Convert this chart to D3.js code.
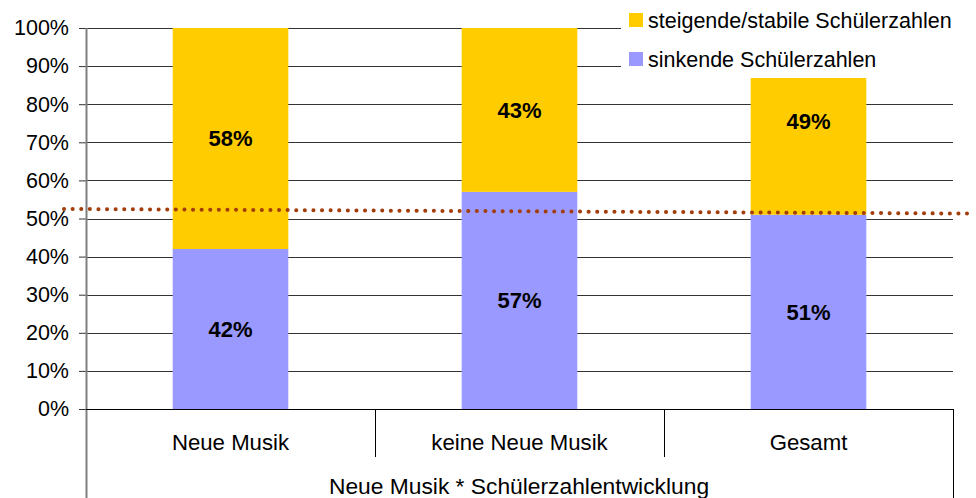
<!DOCTYPE html>
<html>
<head>
<meta charset="utf-8">
<script src="https://cdn.jsdelivr.net/npm/d3@7"></script>
<style>
  html, body { margin: 0; padding: 0; background: #fff; }
  svg { display: block; font-family: "Liberation Sans", Arial, sans-serif; }
</style>
</head>
<body>
<svg id="chart" width="976" height="498"></svg>
<script>
// Anteil der Schulen nach Neue-Musik-Angebot und Schülerzahlentwicklung (in %)
const categories = ["Neue Musik", "keine Neue Musik", "Gesamt"];
const sinkend = [42, 57, 51];
const steigend = [58, 43, 49];
const seriesNames = ["steigende/stabile Schülerzahlen", "sinkende Schülerzahlen"];
const yTicks = [0, 10, 20, 30, 40, 50, 60, 70, 80, 90, 100];
const referenceLine = [52.5, 51.3]; // Start- und Endwert der gepunkteten Linie
const groupLabel = "Neue Musik * Schülerzahlentwicklung";

const colors = { steigend: "#FFCC00", sinkend: "#9999FF", ref: "#A33E0B" };
const fontSize = 21.5;

const svg = d3.select("#chart");
const plotLeft = 86, plotRight = 953, plotTop = 28, plotBottom = 409;

const x = d3.scaleBand().domain(categories).range([plotLeft, plotRight]).paddingInner(0).paddingOuter(0);
const y = d3.scaleLinear().domain([0, 100]).range([plotBottom, plotTop]);
const barW = x.bandwidth() * 0.4;

// Gitterlinien
svg.append("g")
  .selectAll("line")
  .data(yTicks.filter(d => d > 0))
  .join("line")
  .attr("x1", plotLeft).attr("x2", plotRight)
  .attr("y1", d => Math.round(y(d)) + 0.5).attr("y2", d => Math.round(y(d)) + 0.5)
  .attr("stroke", "#333").attr("stroke-width", 1);

// Y-Achse
const yAxis = d3.axisLeft(y).tickValues(yTicks).tickFormat(d => d + "%").tickSize(7).tickSizeOuter(0);
const gy = svg.append("g").attr("transform", `translate(${plotLeft},0)`).call(yAxis);
gy.select(".domain").remove();
gy.selectAll(".tick line").attr("stroke", "#333");
gy.selectAll(".tick text")
  .attr("x", -17)
  .attr("font-size", fontSize)
  .attr("font-family", "Liberation Sans, Arial, sans-serif")
  .attr("fill", "#000");

// Gestapelte Balken
const stackData = categories.map((c, i) => ({ cat: c, sinkend: sinkend[i], steigend: steigend[i] }));
const stack = d3.stack().keys(["sinkend", "steigend"]);
const layers = stack(stackData);

const gBars = svg.append("g");
layers.forEach(layer => {
  gBars.selectAll(null)
    .data(layer)
    .join("rect")
    .attr("x", d => x(d.data.cat) + (x.bandwidth() - barW) / 2)
    .attr("width", barW)
    .attr("y", d => y(d[1]))
    .attr("height", d => y(d[0]) - y(d[1]))
    .attr("fill", colors[layer.key]);
  gBars.selectAll(null)
    .data(layer)
    .join("text")
    .attr("x", d => x(d.data.cat) + x.bandwidth() / 2)
    .attr("y", d => y((d[0] + d[1]) / 2))
    .attr("dy", "0.35em")
    .attr("text-anchor", "middle")
    .attr("font-size", 22)
    .attr("font-weight", "bold")
    .attr("fill", "#000")
    .text(d => (d[1] - d[0]) + "%");
});

// Achsenlinie links und Grundlinie
svg.append("line")
  .attr("x1", plotLeft + 0.5).attr("x2", plotLeft + 0.5)
  .attr("y1", plotTop).attr("y2", 498)
  .attr("stroke", "#808080").attr("stroke-width", 2);
svg.append("line")
  .attr("x1", plotLeft).attr("x2", plotRight)
  .attr("y1", plotBottom + 0.5).attr("y2", plotBottom + 0.5)
  .attr("stroke", "#000");

// Kategorientabelle unter dem Diagramm
svg.append("g")
  .selectAll("line")
  .data(categories.slice(1))
  .join("line")
  .attr("x1", d => Math.round(x(d)) + 0.5).attr("x2", d => Math.round(x(d)) + 0.5)
  .attr("y1", plotBottom).attr("y2", 457)
  .attr("stroke", "#000");
svg.append("line")
  .attr("x1", plotRight + 0.5).attr("x2", plotRight + 0.5)
  .attr("y1", plotBottom).attr("y2", 498)
  .attr("stroke", "#000");

svg.append("g")
  .selectAll("text")
  .data(categories)
  .join("text")
  .attr("x", d => x(d) + x.bandwidth() / 2)
  .attr("y", 450)
  .attr("text-anchor", "middle")
  .attr("font-size", 22.2)
  .attr("fill", "#000")
  .text(d => d);

svg.append("text")
  .attr("x", 519)
  .attr("y", 494)
  .attr("text-anchor", "middle")
  .attr("font-size", 22.8)
  .attr("fill", "#000")
  .text(groupLabel);

// Gepunktete Referenzlinie
const xr = d3.scaleLinear().domain([0, 1]).range([64, 967]);
svg.append("line")
  .attr("x1", xr(0)).attr("x2", xr(1))
  .attr("y1", y(referenceLine[0])).attr("y2", y(referenceLine[1]))
  .attr("stroke", colors.ref)
  .attr("stroke-width", 4)
  .attr("stroke-linecap", "round")
  .attr("stroke-dasharray", "0.1 8.5");

// Legende mit weißem Hintergrund
const legend = svg.append("g");
legend.append("rect")
  .attr("x", 621).attr("y", 0).attr("width", 355).attr("height", 78)
  .attr("fill", "#fff");
const legendItems = [
  { name: seriesNames[0], color: colors.steigend, cy: 20 },
  { name: seriesNames[1], color: colors.sinkend, cy: 59 }
];
legendItems.forEach(it => {
  legend.append("rect")
    .attr("x", 629).attr("y", it.cy - 7).attr("width", 14).attr("height", 14)
    .attr("fill", it.color);
  legend.append("text")
    .attr("x", 648).attr("y", it.cy)
    .attr("dy", "0.35em")
    .attr("font-size", fontSize)
    .attr("fill", "#000")
    .text(it.name);
});
</script>
</body>
</html>
